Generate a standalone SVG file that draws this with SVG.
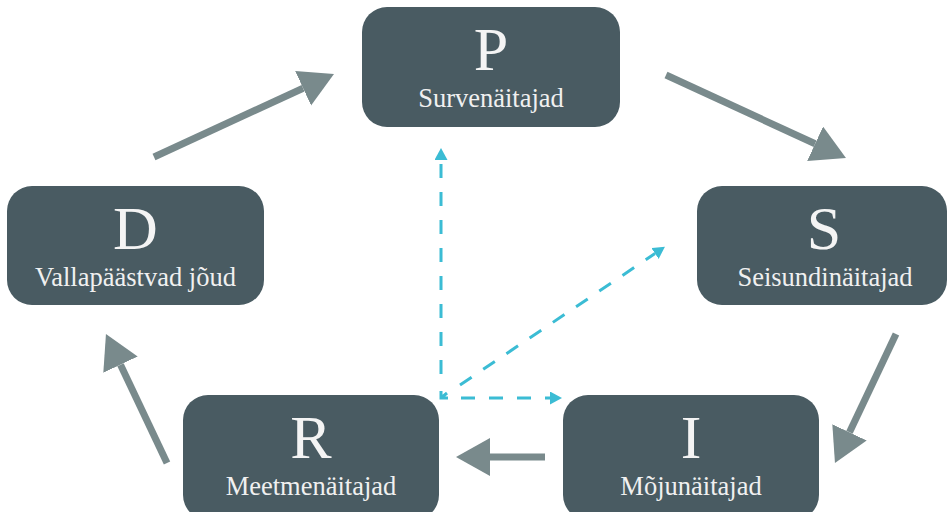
<svg xmlns="http://www.w3.org/2000/svg" width="949" height="512" viewBox="0 0 949 512">
<style>
.box{fill:#495b62}
.big{font-family:"Liberation Serif","DejaVu Serif",serif;font-size:62px;fill:#f4f4f4;text-anchor:middle}
.sub{font-family:"Liberation Serif","DejaVu Serif",serif;font-size:26.5px;fill:#f0f0f0;text-anchor:middle}
.flow{stroke:#798a8c;stroke-width:7;fill:none}
.dash{stroke:#3bbcd4;stroke-width:3;fill:none;stroke-dasharray:14 14}
</style>
<defs>
<marker id="ah" markerUnits="userSpaceOnUse" markerWidth="40" markerHeight="40" refX="0" refY="19" orient="auto">
<path d="M0,0 L34,19 L0,38 Z" fill="#798a8c"/>
</marker>
<marker id="ch" markerUnits="userSpaceOnUse" markerWidth="16" markerHeight="16" refX="0" refY="6.5" orient="auto">
<path d="M0,0 L12,6.5 L0,13 Z" fill="#3bbcd4"/>
</marker>
</defs>
<g id="connectors">
<line class="flow" x1="154" y1="157" x2="303.1" y2="88.2" marker-end="url(#ah)"/>
<line class="flow" x1="666" y1="75" x2="815.1" y2="143.8" marker-end="url(#ah)"/>
<line class="flow" x1="896" y1="334" x2="849.5" y2="432.3" marker-end="url(#ah)"/>
<line class="flow" x1="545" y1="457" x2="490" y2="457" marker-end="url(#ah)"/>
<line class="flow" x1="167" y1="463" x2="120.5" y2="364.7" marker-end="url(#ah)"/>
<line class="dash" x1="441" y1="374" x2="441" y2="160" marker-end="url(#ch)"/>
<line class="dash" x1="461" y1="398" x2="550" y2="398" marker-end="url(#ch)"/>
<line class="dash" x1="460" y1="385" x2="655" y2="253.5" marker-end="url(#ch)"/>
<path d="M441,391 L441,398 L448,398 M441,398 L447,393" stroke="#3bbcd4" stroke-width="3" fill="none"/>
</g>
<g id="P">
<rect class="box" x="362" y="7" width="258" height="120" rx="25"/>
<text class="big" x="491" y="70">P</text>
<text class="sub" x="491" y="107">Survenäitajad</text>
</g>
<g id="S">
<rect class="box" x="697" y="186" width="250" height="119" rx="25"/>
<text class="big" x="824" y="249">S</text>
<text class="sub" x="825" y="286">Seisundinäitajad</text>
</g>
<g id="I">
<rect class="box" x="563" y="395" width="256" height="125" rx="25"/>
<text class="big" x="691" y="458">I</text>
<text class="sub" x="691" y="495">Mõjunäitajad</text>
</g>
<g id="R">
<rect class="box" x="183" y="395" width="256" height="125" rx="25"/>
<text class="big" x="311" y="458">R</text>
<text class="sub" x="311" y="495">Meetmenäitajad</text>
</g>
<g id="D">
<rect class="box" x="7" y="186" width="257" height="119" rx="25"/>
<text class="big" x="135.5" y="249">D</text>
<text class="sub" x="135.5" y="286">Vallapäästvad jõud</text>
</g>
</svg>
